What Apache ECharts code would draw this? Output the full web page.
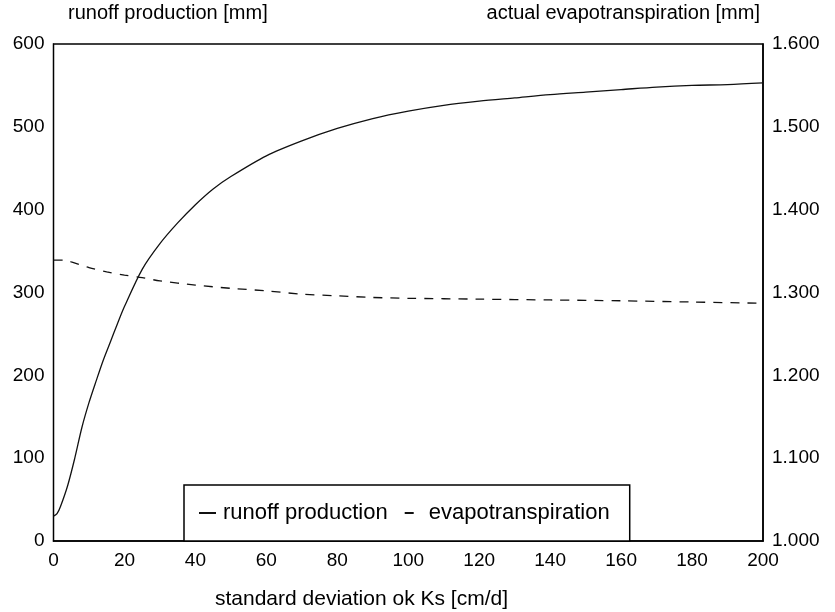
<!DOCTYPE html>
<html>
<head>
<meta charset="utf-8">
<script src="https://cdn.jsdelivr.net/npm/echarts@6/dist/echarts.min.js"></script>
<style>
  html, body { margin: 0; padding: 0; background: #fff; }
  #chart { width: 835px; height: 612px; }
</style>
</head>
<body>
<div id="chart"></div>
<script>
// standard deviation of Ks [cm/d]
const runoffX = [0, 1, 2, 4, 6, 8, 10, 12, 14, 16, 18, 20, 25, 30, 35, 40, 45, 50, 60, 70, 80, 90, 100, 110, 120, 130, 140, 150, 160, 170, 180, 190, 200]
// runoff production [mm]
const runoffY = [30, 33, 42, 67, 100, 137, 167, 193, 218, 240, 262, 283, 328, 359, 384, 406, 425, 440, 465, 483, 498, 510, 519, 526, 531, 535, 539, 542, 545, 548, 550, 551, 553]

const evapX = [0, 3, 5, 10, 15, 20, 25, 30, 40, 50, 60, 70, 80, 90, 100, 120, 140, 160, 180, 200]
// actual evapotranspiration [mm]
const evapY = [1.339, 1.339, 1.337, 1.330, 1.325, 1.321, 1.318, 1.314, 1.309, 1.305, 1.302, 1.298, 1.296, 1.294, 1.293, 1.292, 1.291, 1.290, 1.2885, 1.287]

const seriesNames = ['runoff production', 'evapotranspiration']

const font = 'Liberation Sans, Arial, Helvetica, sans-serif'

const myChart = echarts.init(document.getElementById('chart'))

const option = {
  animation: false,
  backgroundColor: '#fff',
  textStyle: { fontFamily: font, color: '#000' },
  grid: {
    left: 53.5,
    right: 72,
    top: 44,
    bottom: 71,
    show: true,
    borderColor: '#000',
    borderWidth: 1.5,
    backgroundColor: 'transparent',
  },
  graphic: [
    {
      type: 'text',
      left: 68,
      top: 3,
      style: { text: 'runoff production [mm]', font: '20px ' + font, fill: '#000' },
    },
    {
      type: 'text',
      right: 75,
      top: 3,
      style: { text: 'actual evapotranspiration [mm]', font: '20px ' + font, fill: '#000' },
    },
    {
      type: 'text',
      left: 215,
      top: 589,
      style: { text: 'standard deviation ok Ks [cm/d]', font: '21px ' + font, fill: '#000' },
    },
  ],
  legend: {
    data: seriesNames,
    left: 184,
    top: 485,
    orient: 'horizontal',
    backgroundColor: '#fff',
    borderColor: '#000',
    borderWidth: 1.5,
    borderRadius: 0,
    padding: [17, 20, 17, 14],
    itemWidth: 17,
    itemHeight: 10,
    itemGap: 16,
    itemStyle: { color: 'rgba(0,0,0,0)', borderColor: 'rgba(0,0,0,0)', borderWidth: 0 },
    textStyle: { fontSize: 22, fontFamily: font, color: '#000', padding: [0, 0, 0, 2] },
    z: 10,
  },
  xAxis: {
    type: 'value',
    min: 0,
    max: 200,
    interval: 20,
    axisLine: { show: true, lineStyle: { color: '#000', width: 1.5 } },
    axisTick: { show: false },
    splitLine: { show: false },
    axisLabel: { fontSize: 19, color: '#000', margin: 10, fontFamily: font },
  },
  yAxis: [
    {
      type: 'value',
      min: 0,
      max: 600,
      interval: 100,
      position: 'left',
      axisLine: { show: true, lineStyle: { color: '#000', width: 1 } },
      axisTick: { show: false },
      splitLine: { show: false },
      axisLabel: { fontSize: 19, color: '#000', margin: 9, fontFamily: font },
    },
    {
      type: 'value',
      min: 1.0,
      max: 1.6,
      interval: 0.1,
      position: 'right',
      axisLine: { show: true, lineStyle: { color: '#000', width: 1.5 } },
      axisTick: { show: false },
      splitLine: { show: false },
      axisLabel: {
        fontSize: 19,
        color: '#000',
        margin: 9,
        fontFamily: font,
        formatter: (v) => v.toFixed(3),
      },
    },
  ],
  series: [
    {
      name: seriesNames[0],
      type: 'line',
      yAxisIndex: 0,
      symbol: 'none',
      smooth: 0.3,
      data: runoffX.map((x, i) => [x, runoffY[i]]),
      lineStyle: { color: '#111', width: 1.3, type: 'solid' },
      itemStyle: { color: '#111' },
    },
    {
      name: seriesNames[1],
      type: 'line',
      yAxisIndex: 1,
      symbol: 'none',
      smooth: 0.3,
      data: evapX.map((x, i) => [x, evapY[i]]),
      lineStyle: { color: '#111', width: 1.3, type: [9, 8] },
      itemStyle: { color: '#111' },
    },
  ],
}

myChart.setOption(option)
window.addEventListener('resize', () => {
  myChart.resize()
})
</script>
</body>
</html>
